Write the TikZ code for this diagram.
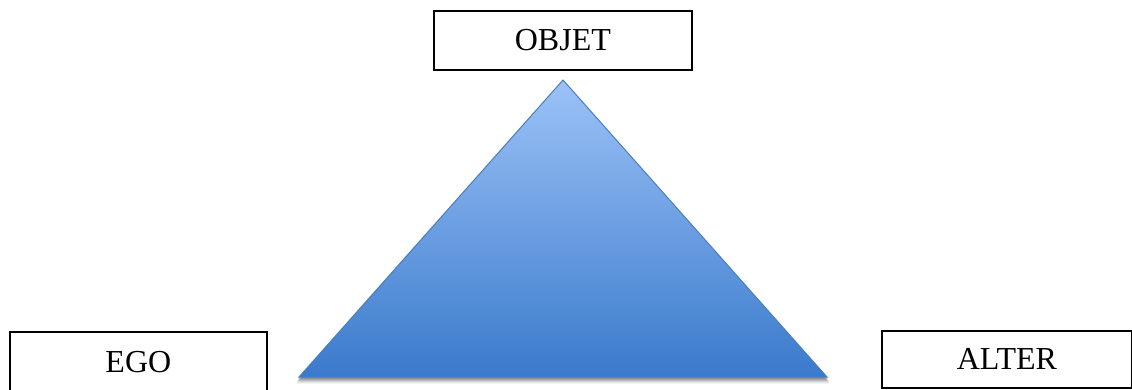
\documentclass[tikz,border=0pt]{standalone}
\usepackage{fontspec}
\setmainfont{Liberation Serif}
\definecolor{triTop}{RGB}{156,194,247}
\definecolor{triBot}{RGB}{58,122,204}
\definecolor{triEdge}{RGB}{74,126,187}
\tikzset{
  labelbox/.style={draw=black, line width=1.7pt, fill=white, font=\fontsize{32}{36}\selectfont, inner sep=0pt, anchor=north west},
}
\begin{document}
\begin{tikzpicture}[x=1pt,y=-1pt]
\useasboundingbox (0,0) rectangle (1132,389);
% boxes
\node[labelbox, minimum width=258pt, minimum height=59pt] (objet) at (433,10) {OBJET};
\node[labelbox, minimum width=257pt, minimum height=61pt] (ego) at (9,331) {EGO};
\node[labelbox, minimum width=250pt, minimum height=57pt] (alter) at (881,330) {ALTER};
% shadow
\foreach \d/\o in {7/0.04,6/0.06,5/0.08,4/0.10,3/0.12,2/0.14} {
  \fill[black, opacity=\o] (563,80+\d) -- (827+\d*0.4,377+\d) -- (299-\d*0.4,377+\d) -- cycle;
}
% triangle
\path[top color=triTop, bottom color=triBot, draw=triEdge, line width=1pt]
  (563,80) coordinate (apex) -- (827,377) coordinate (br) -- (299,377) coordinate (bl) -- cycle;
\end{tikzpicture}
\end{document}
